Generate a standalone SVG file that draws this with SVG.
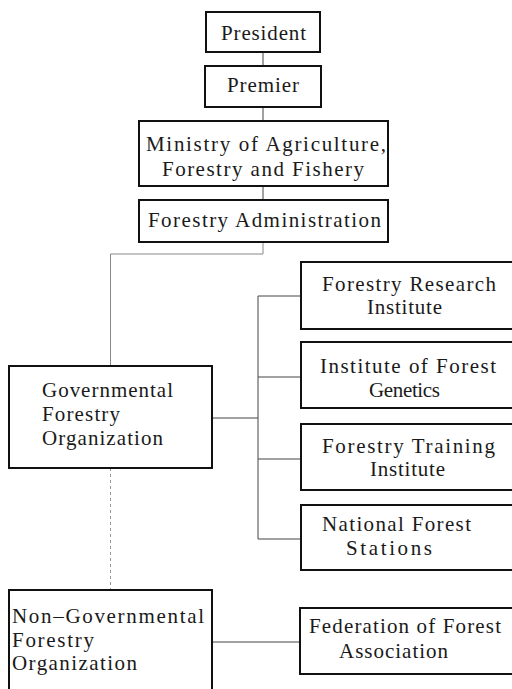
<svg xmlns="http://www.w3.org/2000/svg" width="512" height="689" viewBox="0 0 512 689">
<style>
.box{fill:#fff;stroke:#111;stroke-width:2}
.t{font-size:21px;fill:#1a1a1a}
.c{fill:none;stroke:#444;stroke-width:1}
.cf{fill:none;stroke:#888;stroke-width:1}
.cd{fill:none;stroke:#999;stroke-width:1;stroke-dasharray:3 3}
</style>
<rect width="512" height="689" fill="#fff"/>
<g id="connectors">
<line class="c" x1="263" y1="52" x2="263" y2="66"/>
<line class="c" x1="263" y1="107" x2="263" y2="121"/>
<line class="c" x1="263" y1="186" x2="263" y2="200"/>
<polyline class="cf" points="263,242 263,254 110.5,254 110.5,366"/>
<line class="c" x1="212" y1="418" x2="258" y2="418"/>
<line class="c" x1="258" y1="296" x2="258" y2="539"/>
<line class="c" x1="258" y1="296" x2="301" y2="296"/>
<line class="c" x1="258" y1="377" x2="301" y2="377"/>
<line class="c" x1="258" y1="459" x2="301" y2="459"/>
<line class="c" x1="258" y1="539" x2="301" y2="539"/>
<line class="cd" x1="110.5" y1="468" x2="110.5" y2="590"/>
<line class="c" x1="212" y1="642" x2="300" y2="642"/>
</g>
<g font-family="'Liberation Serif', serif">
<g id="president">
<rect class="box" x="206" y="12" width="114" height="40"/>
<text class="t" x="221" y="40" textLength="85" lengthAdjust="spacing">President</text>
</g>
<g id="premier">
<rect class="box" x="205" y="66" width="116" height="41"/>
<text class="t" x="227" y="92" textLength="72" lengthAdjust="spacing">Premier</text>
</g>
<g id="ministry">
<rect class="box" x="139" y="121" width="249" height="65"/>
<text class="t" x="146" y="151" textLength="240" lengthAdjust="spacing">Ministry of Agriculture,</text>
<text class="t" x="162" y="176" textLength="202" lengthAdjust="spacing">Forestry and Fishery</text>
</g>
<g id="forestry-administration">
<rect class="box" x="139" y="200" width="249" height="42"/>
<text class="t" x="148" y="227" textLength="233" lengthAdjust="spacing">Forestry Administration</text>
</g>
<g id="governmental">
<rect class="box" x="9" y="366" width="203" height="102"/>
<text class="t" x="42" y="397" textLength="131" lengthAdjust="spacing">Governmental</text>
<text class="t" x="42" y="421" textLength="78" lengthAdjust="spacing">Forestry</text>
<text class="t" x="42" y="445" textLength="121" lengthAdjust="spacing">Organization</text>
</g>
<g id="research-institute">
<rect class="box" x="301" y="262" width="215" height="67"/>
<text class="t" x="322" y="291" textLength="174" lengthAdjust="spacing">Forestry Research</text>
<text class="t" x="367" y="314" textLength="75" lengthAdjust="spacing">Institute</text>
</g>
<g id="forest-genetics">
<rect class="box" x="301" y="342" width="215" height="66"/>
<text class="t" x="320" y="373" textLength="176" lengthAdjust="spacing">Institute of Forest</text>
<text class="t" x="369" y="397" textLength="71" lengthAdjust="spacing">Genetics</text>
</g>
<g id="training-institute">
<rect class="box" x="301" y="424" width="215" height="66"/>
<text class="t" x="322" y="453" textLength="173" lengthAdjust="spacing">Forestry Training</text>
<text class="t" x="370" y="476" textLength="75" lengthAdjust="spacing">Institute</text>
</g>
<g id="forest-stations">
<rect class="box" x="301" y="505" width="215" height="65"/>
<text class="t" x="322" y="531" textLength="149" lengthAdjust="spacing">National Forest</text>
<text class="t" x="346" y="555" textLength="86" lengthAdjust="spacing">Stations</text>
</g>
<g id="non-governmental">
<rect class="box" x="9" y="590" width="203" height="110"/>
<text class="t" x="12" y="623" textLength="192" lengthAdjust="spacing">Non–Governmental</text>
<text class="t" x="12" y="647" textLength="82" lengthAdjust="spacing">Forestry</text>
<text class="t" x="12" y="670" textLength="125" lengthAdjust="spacing">Organization</text>
</g>
<g id="federation">
<rect class="box" x="300" y="608" width="216" height="66"/>
<text class="t" x="309" y="633" textLength="192" lengthAdjust="spacing">Federation of Forest</text>
<text class="t" x="339" y="658" textLength="109" lengthAdjust="spacing">Association</text>
</g>
</g>
</svg>
